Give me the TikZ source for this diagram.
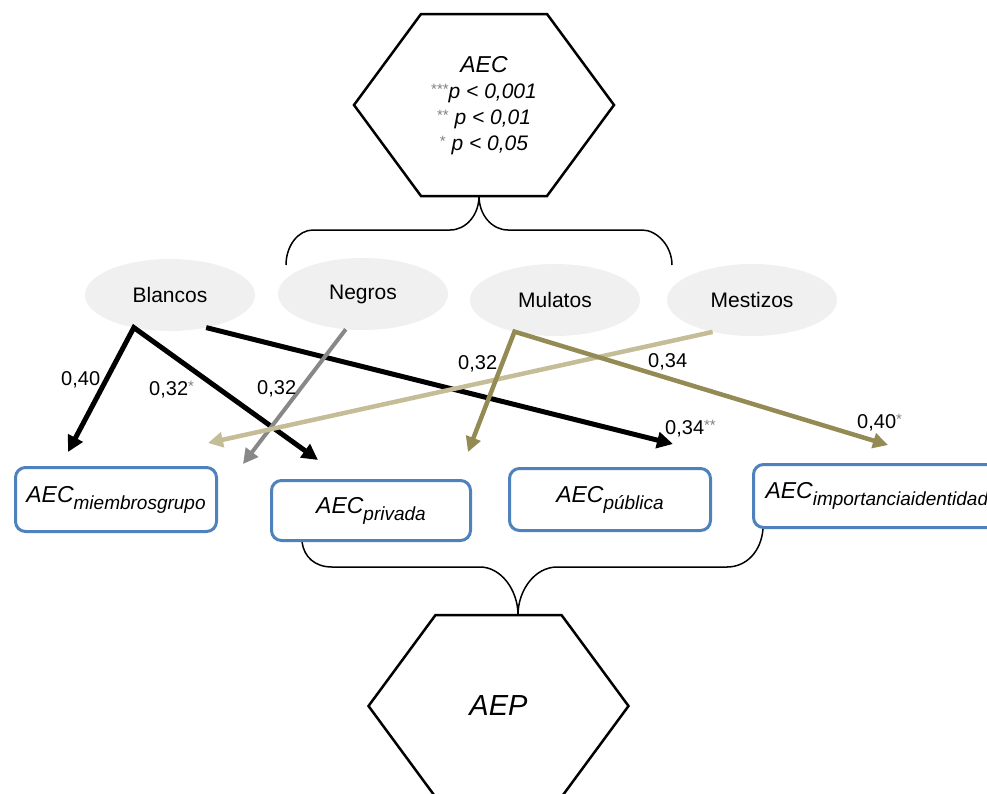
\documentclass[tikz,border=0pt]{standalone}
\usepackage{fontspec}
\setmainfont{Liberation Sans}
\usepackage{xcolor}
\usetikzlibrary{calc, arrows.meta, shapes.geometric}

\definecolor{ellgray}{HTML}{F0F0F0}
\definecolor{boxblue}{HTML}{4F81BD}
\definecolor{arrowgray}{HTML}{888888}
\definecolor{lighttan}{HTML}{C4BD97}
\definecolor{darktan}{HTML}{948A54}
\definecolor{stargray}{HTML}{808080}

\newcommand{\aecsub}[1]{{\fontsize{23}{27}\selectfont\itshape AEC}\raisebox{-7pt}{\fontsize{19}{21}\selectfont\itshape #1}}
\newcommand{\stars}[1]{\raisebox{4pt}{\color{stargray}\fontsize{15}{15}\selectfont\upshape #1}}
\newcommand{\hexagonat}[1]{\draw[hexa, shift={(#1)}] (-130,0) -- (-63,-91) -- (63,-91) -- (130,0) -- (63,91) -- (-63,91) -- cycle;}

\begin{document}
\begin{tikzpicture}[x=1pt, y=-1pt,
  group/.style={ellipse, fill=ellgray, minimum width=170pt, minimum height=72pt, inner sep=0pt, outer sep=0pt, font=\fontsize{21}{24}\selectfont},
  aecbox/.style={draw=boxblue, line width=3pt, rounded corners=10pt, fill=white, inner sep=2pt},
  coef/.style={font=\fontsize{20}{24}\selectfont, inner sep=0pt, anchor=base west},
  effect/.style={line width=5pt, -{Triangle[length=16pt,width=16pt]}},
  twoeffect/.style={line width=5pt, line join=miter, {Triangle[length=16pt,width=16pt]}-{Triangle[length=16pt,width=16pt]}},
  brace/.style={line width=1.5pt},
  hexa/.style={line width=2.5pt, line join=miter}
]
  \useasboundingbox (0,0) rectangle (987,793);

  % Top hexagon with the legend
  \node[align=center, inner sep=0pt, font=\fontsize{21}{26}\selectfont\itshape] (aec) at (484,106)
    {{\fontsize{23}{26}\selectfont AEC}\\
     \stars{***}p < 0,001\\
     \stars{**} p < 0,01\\
     \stars{*} p < 0,05};
  \hexagonat{484,105}

  % Bottom hexagon
  \node[font=\fontsize{29}{32}\selectfont\itshape, inner sep=0pt] (aep) at (498.5,706) {AEP};
  \hexagonat{498.5,706}

  % Upper brace
  \coordinate (toptip) at (479,196);
  \draw[brace] (286,265) .. controls (286,246) and (298,230) .. (313,230) -- (450,230)
    .. controls (466,230) and (479,215) .. (toptip)
    .. controls (479,215) and (492,230) .. (508,230) -- (642,230)
    .. controls (657,230) and (672,246) .. (672,265);

  % Lower brace
  \coordinate (bottip) at (518,615);
  \draw[brace] (302,542) .. controls (304,557) and (315,567) .. (332,567) -- (480,567)
    .. controls (501,567) and (518,590) .. (bottip)
    .. controls (518,590) and (535,567) .. (557,567) -- (727,567)
    .. controls (746,567) and (761,552) .. (763,529);

  % Groups
  \node[group] (blancos) at (170,295) {Blancos};
  \node[group] (negros) at (363,294) {Negros};
  \node[group] (mulatos) at (555,300) {Mulatos};
  \node[group] (mestizos) at (752,300) {Mestizos};

  % Outcome boxes
  \node[aecbox, minimum width=201pt, minimum height=64pt] (miembros) at (116,499.5) {\aecsub{miembrosgrupo}};
  \node[aecbox, minimum width=199pt, minimum height=60pt] (privada) at (371,510.5) {\aecsub{privada}};
  \node[aecbox, minimum width=201pt, minimum height=62pt] (publica) at (610,499.5) {\aecsub{pública}};
  \node[aecbox, minimum height=63pt, anchor=west, inner xsep=12pt, text width=250pt, align=left] (importancia) at (752,496) {\aecsub{importanciaidentidad}};

  % Arrow tips
  \coordinate (tipmiembros) at (68,452);
  \coordinate (tipprivada) at (318,460);
  \coordinate (tippublica) at (673,444);
  \coordinate (tipnegros) at (243,464);
  \coordinate (tipmestizos) at (208,443);
  \coordinate (tipmulpublica) at (468,452);
  \coordinate (tipimportancia) at (888,445);

  % Paths
  \draw[effect] (blancos.318) -- (tippublica);
  \draw[twoeffect] (tipmiembros) -- (blancos.222) -- (tipprivada);
  \draw[effect, line width=4pt, arrowgray, -{Triangle[length=15pt,width=15pt]}] (negros.244) -- (tipnegros);
  \draw[effect, line width=4.5pt, lighttan, -{Triangle[length=15pt,width=15pt]}] (mestizos.219) -- (tipmestizos);
  \draw[twoeffect, line width=4.5pt, darktan, {Triangle[length=15pt,width=15pt]}-{Triangle[length=15pt,width=15pt]}] (tipmulpublica) -- (mulatos.218) -- (tipimportancia);

  % Coefficients
  \node[coef] (c1) at (61,385) {0,40};
  \node[coef] (c2) at (149,395) {0,32\stars{*}};
  \node[coef] (c3) at (257,394) {0,32};
  \node[coef] (c4) at (458,369) {0,32};
  \node[coef] (c5) at (648,367) {0,34};
  \node[coef] (c6) at (665,434) {0,34\stars{**}};
  \node[coef] (c7) at (857,428) {0,40\stars{*}};
\end{tikzpicture}
\end{document}
